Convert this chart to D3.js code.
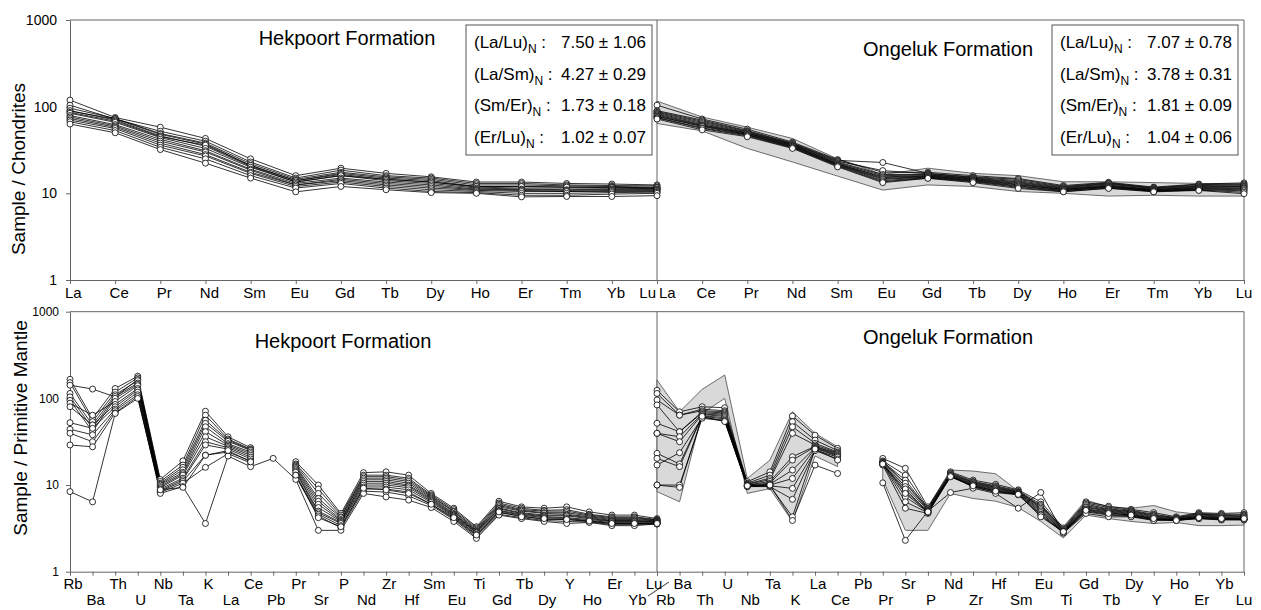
<!DOCTYPE html>
<html>
<head>
<meta charset="utf-8">
<script src="https://cdn.jsdelivr.net/npm/d3@7"></script>
<style>
  body { margin: 0; background: #fff; }
  svg { display: block; font-family: "Liberation Sans", Arial, sans-serif; }
</style>
</head>
<body>
<svg id="chart" width="1261" height="610"></svg>
<script>
// element orders
const reeEls = ["La","Ce","Pr","Nd","Sm","Eu","Gd","Tb","Dy","Ho","Er","Tm","Yb","Lu"];
const spiderEls = ["Rb","Ba","Th","U","Nb","Ta","K","La","Ce","Pb","Pr","Sr","P","Nd","Zr","Hf","Sm","Eu","Ti","Gd","Tb","Dy","Y","Ho","Er","Yb","Lu"];
const yTicks = [1, 10, 100, 1000];

// chondrite-normalised REE, Hekpoort (La .. Lu)
const hekRee = [
  [119, 75, 58, 43, 25, 16, 19.5, 17, 15.5, 13.5, 13.5, 13, 12.8, 12.5],
  [104, 72, 52, 40, 23, 15, 18.5, 16, 15, 13, 13, 12.5, 12.3, 12.2],
  [96, 73, 49, 38, 22, 14.5, 17.5, 15.5, 14.5, 12.5, 12.5, 12.2, 12, 11.8],
  [89, 72, 48, 37, 21, 14, 17, 15, 14, 12, 12, 11.8, 11.8, 11.5],
  [90, 70, 46, 35, 20.5, 13.5, 16, 14.5, 13.5, 11.8, 11.5, 11.5, 11.5, 11.3],
  [86, 68, 45, 36, 21, 14, 16.5, 14.5, 13.5, 12, 12, 11.8, 11.6, 11.6],
  [84, 66, 44, 33, 20, 13.5, 16, 14, 13, 11.5, 11.2, 11, 11.2, 11.2],
  [79, 62, 42, 31, 19, 13, 15, 13.5, 12.5, 11.2, 11, 10.8, 11, 11],
  [76, 60, 40, 30, 18.5, 12.5, 14.5, 13, 12, 11, 10.8, 10.5, 10.8, 10.8],
  [73, 58, 38, 28, 17.5, 12.5, 14, 12.5, 11.5, 10.8, 10.5, 10.5, 10.5, 10.5],
  [70, 56, 36, 27, 17, 12, 13.5, 12, 11, 10.5, 10, 10, 10.2, 10.3],
  [67, 53, 34, 25, 16, 11.5, 13, 11.5, 10.5, 10.2, 9.5, 9.5, 9.8, 10],
  [63, 50, 32, 22.3, 15, 10.4, 12, 11, 10.2, 10, 9.1, 9.2, 9.2, 9.4]
];

// chondrite-normalised REE, Ongeluk
const ongRee = [
  [104, 72, 55, 39, 24.5, 17.5, 17.5, 16, 14.8, 12.3, 13.4, 11.8, 12.8, 13.2],
  [90, 70, 53, 38, 24, 22.7, 17, 15.5, 14.5, 12, 13.2, 11.6, 12.6, 12.8],
  [88, 68, 52, 37.5, 23.5, 18.3, 16.8, 15.3, 14, 11.8, 13, 11.5, 12.3, 12.5],
  [86, 66, 51, 37, 23, 16.5, 16.5, 15, 13.6, 11.6, 12.8, 11.3, 12.1, 12.2],
  [84, 64, 50, 36.5, 22.5, 16, 16.3, 14.8, 13.3, 11.4, 12.5, 11.1, 11.9, 12],
  [82, 62, 49.5, 36, 22, 15.5, 16, 14.6, 13, 11.2, 12.3, 11, 11.7, 11.8],
  [80, 61, 49, 35.5, 21.8, 15.2, 15.8, 14.4, 12.7, 11.1, 12.1, 10.9, 11.5, 11.5],
  [78, 60, 48, 35, 21.5, 14.8, 15.6, 14.2, 12.5, 11, 12, 10.8, 11.3, 11.3],
  [77, 59, 47.5, 34.5, 21.2, 14.5, 15.4, 14, 12.2, 10.8, 11.8, 10.7, 11.2, 11],
  [75, 57, 47, 34, 21, 14, 15.2, 13.8, 12, 10.7, 11.7, 10.6, 11, 10.7],
  [74, 56, 46, 33.5, 20.6, 13.6, 15, 13.6, 11.7, 10.5, 11.5, 10.5, 10.9, 10.3],
  [72, 54, 45, 33, 20.2, 13.3, 14.9, 13.3, 11.4, 10.4, 11.4, 10.4, 10.8, 9.9]
];
// grey field behind the Ongeluk REE
const ongReeEnvHi = [116, 76, 58, 43, 25, 16.5, 19.5, 17, 16, 13.6, 13.6, 13.3, 13, 12.8];
const ongReeEnvLo = [64, 52.5, 33, 23, 15.8, 10.9, 12.5, 12, 10.5, 10, 9.3, 9.5, 9.3, 9.3];

// primitive-mantle normalised, Hekpoort (null = not analysed)
const hekSpider = [
  [166, 58.6, 130, 180, 11.6, 19, 71, 36, 27, null, 18.6, 10, 4.7, 13.9, 14.2, 13, 8, 5.4, 3.3, 6.5, 5.6, 5.4, 5.6, 4.9, 4.5, 4.5, 4.1],
  [152, 53.9, 118, 172, 11, 17, 64, 34, 26, null, 17.5, 9, 4.5, 13, 13, 12, 7.7, 5.2, 3.2, 6.2, 5.4, 5.1, 5.2, 4.6, 4.3, 4.3, 4],
  [142, 128, 104, 165, 10.5, 16, 56, 33, 25.5, null, 17, 8, 4.3, 12.5, 12.5, 11.5, 7.5, 5, 3.1, 6, 5.2, 5, 5, 4.5, 4.2, 4.2, 3.95],
  [114, 49.3, 110, 160, 10.2, 15, 51.5, 32, 25, null, 16.5, 7, 4.2, 12, 12, 11, 7.3, 4.9, 3, 5.8, 5.1, 4.8, 4.8, 4.4, 4.1, 4.1, 3.9],
  [104, 45.1, 105, 150, 10, 14, 47, 30, 24, null, 16, 6.5, 4, 11.5, 11.5, 10.5, 7.1, 4.7, 2.95, 5.6, 5, 4.7, 4.6, 4.3, 4, 4, 3.85],
  [95, 41.3, 100, 145, 9.6, 13.5, 41.3, 29, 23, null, 15.5, 6, 3.9, 11, 11, 10, 6.9, 4.6, 2.9, 5.4, 4.8, 4.5, 4.5, 4.2, 3.9, 3.9, 3.8],
  [88, 64, 92, 140, 9.3, 13, 36, 28, 22, null, 15, 5.5, 3.8, 10.5, 10.5, 9.7, 6.7, 4.5, 2.85, 5.3, 4.7, 4.4, 4.4, 4.1, 3.85, 3.85, 3.75],
  [80, 49.3, 85, 130, 9, 12, 31.6, 27, 21, null, 14.5, 5, 3.7, 10, 10, 9.3, 6.5, 4.4, 2.8, 5.1, 4.6, 4.3, 4.2, 4, 3.8, 3.8, 3.7],
  [52.4, 45.1, 80, 125, 8.7, 11.5, 29, 26, 20, null, 14, 4.8, 3.6, 9.5, 9.5, 8.8, 6.3, 4.3, 2.7, 5, 4.5, 4.2, 4.1, 3.9, 3.7, 3.7, 3.65],
  [44, 38, 75, 118, 8.5, 11, 22.2, 24, 19, null, 13, 4.6, 3.4, 9, 9, 8.3, 6, 4.1, 2.6, 4.8, 4.4, 4, 4, 3.8, 3.6, 3.6, 3.6],
  [39.6, 31.6, 72, 110, 8.2, 10.5, 16, 23, 18, null, 12.5, 4.4, 3.2, 8.5, 8.3, 7.5, 5.8, 4, 2.5, 4.6, 4.2, 3.9, 3.8, 3.75, 3.5, 3.5, 3.55],
  [29, 27.6, 68, 105, 8, 9.6, 3.6, 21.6, 16.3, 20.3, 11.6, 3, 3, 8, 7.3, 6.7, 5.5, 3.8, 2.42, 4.5, 4.1, 3.8, 3.6, 3.7, 3.4, 3.4, 3.55],
  [8.4, 6.4, 67, 100, 8.8, 9.4, 22, 25, 18.5, null, 13, 4.2, 3.3, 9.2, 8.8, 8, 6, 4.2, 2.65, 4.9, 4.3, 4.1, 4, 3.85, 3.6, 3.6, 3.6]
];

// primitive-mantle normalised, Ongeluk
const ongSpider = [
  [124, 70, 80, 78, 10.9, 14.2, 62.6, 37.6, 26.5, null, 20.3, 15.6, 5.6, 14.2, 11.4, 10.2, 8.8, 6.4, 3.2, 6.4, 5.7, 5.25, 4.8, 4.3, 4.8, 4.7, 4.8],
  [114, 64, 75, 72, 10.5, 13, 53.8, 33, 25, null, 19, 13, 5.4, 13.8, 11, 9.8, 8.6, 6, 3.1, 6.2, 5.5, 5.1, 4.6, 4.2, 4.7, 4.6, 4.6],
  [96, 64, 72, 70, 10.3, 12, 47, 30.3, 24, null, 18.6, 11.4, 5.3, 13.5, 10.8, 9.6, 8.4, 5.8, 3.05, 6, 5.3, 5, 4.5, 4.15, 4.6, 4.5, 4.5],
  [84, 41.2, 70, 68, 10.2, 11.5, 39.5, 29, 23.5, null, 18.3, 10.5, 5.2, 13.3, 10.6, 9.4, 8.3, 5.6, 3, 5.8, 5.2, 4.9, 4.4, 4.1, 4.5, 4.4, 4.4],
  [51.6, 41.2, 68, 66, 10, 11, 21.2, 28, 23, null, 18, 9.6, 5.1, 13, 10.4, 9.2, 8.2, 5.4, 2.95, 5.6, 5.1, 4.8, 4.3, 4.05, 4.4, 4.3, 4.3],
  [39.5, 36.1, 66, 64, 10, 10.5, 19.4, 27.6, 22.5, null, 17.8, 8.4, 5, 12.8, 10.2, 9, 8.1, 5.2, 2.9, 5.5, 5, 4.7, 4.2, 4, 4.35, 4.2, 4.2],
  [39.5, 31.6, 65, 62, 9.9, 10.2, 14.9, 27, 22, null, 17.5, 7.3, 4.9, 12.6, 10, 8.8, 8, 5, 2.9, 5.3, 4.9, 4.6, 4.1, 4, 4.3, 4.15, 4.1],
  [23.2, 17.5, 63, 60, 9.8, 10, 11.9, 26.5, 21.5, null, 17.3, 6.4, 4.8, 12.5, 9.8, 8.6, 7.9, 4.8, 2.85, 5.2, 4.8, 4.5, 4.05, 3.95, 4.2, 4.1, 4.05],
  [20.3, 16.3, 62, 58, 9.7, 9.8, 9.15, 25.4, 21, null, 17, 5.4, 4.7, 12.5, 9.6, 8.3, 7.8, 4.6, 2.85, 5, 4.6, 4.4, 4, 3.9, 4.15, 4, 4],
  [17, 23.6, 60, 56, 9.6, 9.6, 6.85, 25, 20, null, 17.5, 9, 4.8, 12.8, 9.5, 8.2, 7.7, 4.5, 2.8, 4.9, 4.5, 4.35, 3.95, 3.9, 4.1, 3.95, 3.95],
  [10, 10, 59, 55, 9.6, 9.8, 4.3, 26, 19.4, null, 10.6, 2.3, 5, 8.2, 9.2, 8, 5.4, 8.2, 2.8, 4.7, 4.3, 4.3, 3.9, 4, 4.1, 4, 4],
  [10, 9.4, 62, 54, 9.8, 10, 3.9, 17, 13.6, null, 17.5, 8, 4.9, 12.5, 9.8, 8.5, 7.8, 4.3, 2.9, 5.1, 4.7, 4.5, 4.1, 3.9, 4.2, 4.1, 4.1]
];
// grey field behind the Ongeluk spider diagram
const ongSpiderEnvHi = [163, 70, 127, 186, 11.9, 19.4, 70, 39.5, 27.6, null, 19, 10.5, 5.5, 14.9, 14.5, 13.5, 8.5, 5.6, 3.3, 6.7, 5.6, 5.4, 5.8, 4.9, 4.6, 4.5, 4.3];
const ongSpiderEnvLo = [8.4, 6.4, 67, 100, 8, 9.1, 3.8, 21.6, 16.3, null, 11.6, 3, 3, 8, 7, 6.5, 5.5, 3.8, 2.45, 4.5, 4.1, 3.8, 3.6, 3.7, 3.4, 3.4, 3.45];

// ratio boxes
const hekRatioLabels = ["La/Lu", "La/Sm", "Sm/Er", "Er/Lu"];
const hekRatioValues = ["7.50 ± 1.06", "4.27 ± 0.29", "1.73 ± 0.18", "1.02 ± 0.07"];
const ongRatioLabels = ["La/Lu", "La/Sm", "Sm/Er", "Er/Lu"];
const ongRatioValues = ["7.07 ± 0.78", "3.78 ± 0.31", "1.81 ± 0.09", "1.04 ± 0.06"];

// ---------------------------------------------------------------
const svg = d3.select("#chart");
const X0 = 70, XM = 657, X1 = 1244;
const rows = [{top: 20, bottom: 280}, {top: 311.7, bottom: 571.7}];
const axisCol = "#666";

// layers so that grey fields sit under every line and dots over every line
const gFrame = svg.append("g");
const gEnv = svg.append("g");
const gLines = svg.append("g");
const gDots = svg.append("g");
const gText = svg.append("g");

function panel(cfg) {
  const row = rows[cfg.row];
  const x = d3.scalePoint().domain(cfg.els).range([cfg.x0, cfg.x1]);
  const y = d3.scaleLog().domain([1, 1000]).range([row.bottom, row.top]);

  // bottom axis (labels drawn by hand, they alternate rows)
  const ax = gFrame.append("g")
    .attr("transform", `translate(0,${row.bottom})`)
    .call(d3.axisBottom(x).tickSize(4).tickSizeOuter(0).tickFormat(""));
  ax.selectAll("path,line").attr("stroke", axisCol);

  if (cfg.yAxis) {
    const ay = gFrame.append("g")
      .attr("transform", `translate(${cfg.x0},0)`)
      .call(d3.axisLeft(y).tickValues(yTicks).tickFormat(d3.format("d"))
        .tickSize(4).tickSizeOuter(0).tickPadding(cfg.row === 0 ? 9 : 7));
    ay.selectAll("path,line").attr("stroke", axisCol);
    ay.selectAll("text")
      .attr("font-family", "Liberation Sans, Arial, sans-serif")
      .attr("font-size", cfg.row === 0 ? 14 : 12)
      .attr("fill", "#000");
  }

  // grey envelope
  if (cfg.envHi) {
    const area = d3.area()
      .defined((d, i) => cfg.envHi[i] != null)
      .x((d, i) => x(cfg.els[i]))
      .y0((d, i) => y(cfg.envLo[i]))
      .y1((d, i) => y(cfg.envHi[i]));
    gEnv.append("path").datum(cfg.els)
      .attr("d", area)
      .attr("fill", "#d9d9d9")
      .attr("stroke", "#4a4a4a")
      .attr("stroke-width", 0.8);
  }

  const line = d3.line()
    .defined(d => d != null)
    .x((d, i) => x(cfg.els[i]))
    .y(d => y(d));

  gLines.selectAll(null)
    .data(cfg.samples)
    .join("path")
    .attr("d", line)
    .attr("fill", "none")
    .attr("stroke", "#000")
    .attr("stroke-width", 0.8);

  const pts = [];
  cfg.samples.forEach(s => s.forEach((v, i) => { if (v != null) pts.push({el: cfg.els[i], v: v}); }));
  gDots.selectAll(null)
    .data(pts)
    .join("circle")
    .attr("cx", d => x(d.el))
    .attr("cy", d => y(d.v))
    .attr("r", 3)
    .attr("fill", "#fff")
    .attr("stroke", "#000")
    .attr("stroke-width", 0.8);

  // element labels
  cfg.els.forEach((el, i) => {
    const lab = cfg.label(i, x(el));
    gText.append("text")
      .attr("x", lab.x)
      .attr("y", lab.y)
      .attr("text-anchor", lab.anchor)
      .attr("font-size", 15)
      .text(el);
  });

  // title
  gText.append("text")
    .attr("x", cfg.titleX).attr("y", cfg.titleY)
    .attr("text-anchor", "middle")
    .attr("font-size", 20)
    .text(cfg.title);
}

// frame lines (top edge, panel divider, right edge)
rows.forEach(r => {
  gFrame.append("line").attr("x1", X0).attr("x2", X1).attr("y1", r.top).attr("y2", r.top);
  gFrame.append("line").attr("x1", XM).attr("x2", XM).attr("y1", r.top).attr("y2", r.bottom);
  gFrame.append("line").attr("x1", X1).attr("x2", X1).attr("y1", r.top).attr("y2", r.bottom);
});
gFrame.selectAll("line").attr("stroke", axisCol).attr("stroke-width", 1);

const nRee = reeEls.length, nSp = spiderEls.length;

// top-left: Hekpoort REE
panel({
  row: 0, x0: X0, x1: XM, els: reeEls, samples: hekRee, yAxis: true,
  title: "Hekpoort Formation", titleX: 347, titleY: 45,
  label: (i, px) => i === 0 ? {x: px - 5, y: 298, anchor: "start"}
    : i === nRee - 1 ? {x: px - 1, y: 298, anchor: "end"}
    : {x: px + 4, y: 298, anchor: "middle"}
});
// top-right: Ongeluk REE
panel({
  row: 0, x0: XM, x1: X1, els: reeEls, samples: ongRee, yAxis: false,
  envHi: ongReeEnvHi, envLo: ongReeEnvLo,
  title: "Ongeluk Formation", titleX: 948, titleY: 56,
  label: (i, px) => i === 0 ? {x: px + 2, y: 298, anchor: "start"}
    : i === nRee - 1 ? {x: px, y: 298, anchor: "middle"}
    : {x: px + 4, y: 298, anchor: "middle"}
});
// bottom-left: Hekpoort spider
panel({
  row: 1, x0: X0, x1: XM, els: spiderEls, samples: hekSpider, yAxis: true,
  title: "Hekpoort Formation", titleX: 343, titleY: 348,
  label: (i, px) => ({x: i === nSp - 1 ? px - 3 : px + 3, y: i % 2 === 0 ? 589 : 605, anchor: "middle"})
});
// bottom-right: Ongeluk spider
panel({
  row: 1, x0: XM, x1: X1, els: spiderEls, samples: ongSpider, yAxis: false,
  envHi: ongSpiderEnvHi, envLo: ongSpiderEnvLo,
  title: "Ongeluk Formation", titleX: 948, titleY: 344,
  label: (i, px) => i === 0 ? {x: px - 1, y: 605, anchor: "start"}
    : {x: i === nSp - 1 ? px : px + 3, y: i % 2 === 0 ? 605 : 589, anchor: "middle"}
});

// little slash separating Lu / Rb at the join
gText.append("line")
  .attr("x1", 648).attr("y1", 596).attr("x2", 669).attr("y2", 582)
  .attr("stroke", "#000").attr("stroke-width", 0.8);

// y-axis titles
gText.append("text")
  .attr("transform", "translate(25,169) rotate(-90)")
  .attr("text-anchor", "middle").attr("font-size", 19)
  .text("Sample / Chondrites");
gText.append("text")
  .attr("transform", "translate(27,428) rotate(-90)")
  .attr("text-anchor", "middle").attr("font-size", 19)
  .text("Sample / Primitive Mantle");

// ratio boxes
function ratioBox(bx, by, labels, values) {
  const w = 186, h = 130;
  const g = gText.append("g");
  g.append("rect").attr("x", bx).attr("y", by).attr("width", w).attr("height", h)
    .attr("fill", "#fff").attr("stroke", "#555").attr("stroke-width", 1);
  labels.forEach((lab, i) => {
    const yy = by + 23 + i * 31.5;
    const t = g.append("text").attr("x", bx + 8).attr("y", yy).attr("font-size", 17);
    t.append("tspan").text(`(${lab})`);
    t.append("tspan").attr("font-size", 12).attr("dy", 5).text("N");
    t.append("tspan").attr("dy", -5).text(" :");
    g.append("text").attr("x", bx + w - 6).attr("y", yy)
      .attr("text-anchor", "end").attr("font-size", 17)
      .text(values[i]);
  });
}
ratioBox(466, 25, hekRatioLabels, hekRatioValues);
ratioBox(1052, 25, ongRatioLabels, ongRatioValues);
</script>
</body>
</html>
